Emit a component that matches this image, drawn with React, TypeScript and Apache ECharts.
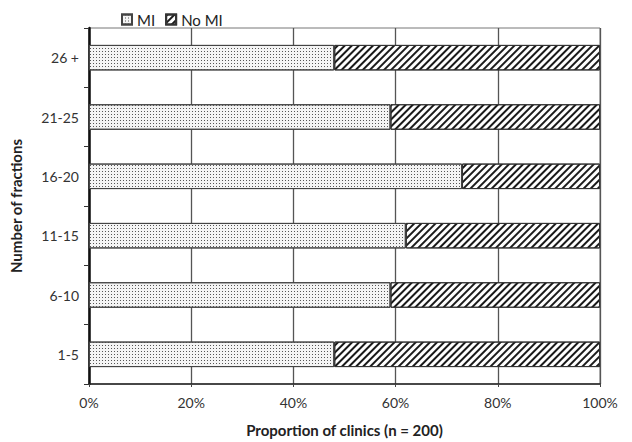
import React, { useEffect, useRef } from "react";
import * as echarts from "echarts";

const categories = ["1-5", "6-10", "11-15", "16-20", "21-25", "26 +"];
const miValues = [0.48, 0.59, 0.62, 0.73, 0.59, 0.48];
const noMiValues = [0.52, 0.41, 0.38, 0.27, 0.41, 0.52];
const xTicks = [0, 0.2, 0.4, 0.6, 0.8, 1.0];

const FONT = "Lato";

export default function App() {
  const ref = useRef<HTMLDivElement>(null);
  useEffect(() => {
    if (!ref.current) return;
    const chart = echarts.init(ref.current, null, { renderer: "svg" });
    chart.setOption({
      animation: false,
      backgroundColor: "#ffffff",
      textStyle: { fontFamily: FONT },
      legend: {
        left: 116,
        top: 7,
        itemWidth: 10,
        itemHeight: 10,
        itemGap: 10,
        icon: "rect",
        textStyle: { fontSize: 15, color: "#222", fontFamily: FONT },
        data: ["MI", "No MI"],
      },
      grid: {
        left: 88,
        right: 32,
        top: 28,
        bottom: 53,
        show: true,
        borderColor: "#777",
        borderWidth: 1,
        backgroundColor: "transparent",
      },
      xAxis: {
        type: "value",
        min: xTicks[0],
        max: xTicks[xTicks.length - 1],
        interval: 0.2,
        axisLine: { show: true, lineStyle: { color: "#222", width: 1.5 } },
        axisTick: { show: true, length: 3, lineStyle: { color: "#444" } },
        splitLine: { show: true, lineStyle: { color: "#555", width: 1.3 } },
        axisLabel: {
          formatter: (v: number) => Math.round(v * 100) + "%",
          fontSize: 14,
          color: "#333",
          margin: 11,
          fontFamily: FONT,
        },
        name: "Proportion of clinics (n = 200)",
        nameLocation: "middle",
        nameGap: 38,
        nameTextStyle: { fontSize: 15, fontWeight: "bold", color: "#222", fontFamily: FONT },
      },
      yAxis: {
        type: "category",
        data: categories,
        boundaryGap: true,
        axisLine: { show: true, lineStyle: { color: "#111", width: 2.5 } },
        axisTick: { show: true, length: 5, alignWithLabel: false, lineStyle: { color: "#333" } },
        splitLine: { show: false },
        axisLabel: { fontSize: 14, color: "#333", margin: 10, fontFamily: FONT },
        name: "Number of fractions",
        nameLocation: "middle",
        nameGap: 66,
        nameTextStyle: { fontSize: 15, fontWeight: "bold", color: "#222", fontFamily: FONT },
      },
      series: [
        {
          name: "MI",
          type: "bar",
          stack: "total",
          barWidth: "43%",
          data: miValues,
          itemStyle: {
            color: "#f4f4f4",
            borderColor: "#444",
            borderWidth: 1,
            decal: {
              symbol: "rect",
              symbolSize: 1,
              color: "#555",
              dashArrayX: [1, 2],
              dashArrayY: [1, 2],
              rotation: 0,
            },
          },
        },
        {
          name: "No MI",
          type: "bar",
          stack: "total",
          barWidth: "43%",
          data: noMiValues,
          itemStyle: {
            color: "#ffffff",
            borderColor: "#333",
            borderWidth: 1,
            decal: {
              symbol: "rect",
              symbolSize: 1,
              color: "#1a1a1a",
              dashArrayX: [1, 0],
              dashArrayY: [1.6, 2.2],
              rotation: -Math.PI / 4,
            },
          },
        },
      ],
    });
    return () => chart.dispose();
  }, []);
  return (
    <div
      ref={ref}
      style={{ position: "absolute", left: 0, top: 0, width: 632, height: 442 }}
    />
  );
}
